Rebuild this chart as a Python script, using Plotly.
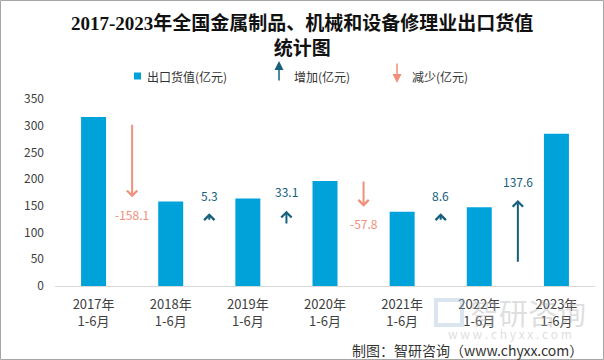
import plotly.graph_objects as go

# ---- data ----
categories = ["2017年<br>1-6月", "2018年<br>1-6月", "2019年<br>1-6月", "2020年<br>1-6月",
              "2021年<br>1-6月", "2022年<br>1-6月", "2023年<br>1-6月"]
export_values = [316.4, 158.3, 163.6, 196.7, 138.9, 147.5, 285.1]
change_values = [-158.1, 5.3, 33.1, -57.8, 8.6, 137.6]
change_labels = ["-158.1", "5.3", "33.1", "-57.8", "8.6", "137.6"]
arrow_tail = [304.5, 121.0, 114.0, 198.4, 121.0, 42.5]
arrow_tip = [166.0, 136.0, 141.0, 148.5, 136.0, 161.0]
label_y = [133.0, 170.0, 176.5, 117.0, 170.0, 195.0]
y_ticks = [0, 50, 100, 150, 200, 250, 300, 350]

BAR = "#00a2da"
UP = "#16607e"
DOWN = "#f0907b"
FONT = "Noto Sans CJK SC, Liberation Sans, sans-serif"

W, H = 604, 360
L, R, T, B = 55, 9, 99, 74
PW, PH = W - L - R, H - T - B


def px_x(p):
    return (p - L) / PW


def px_y(p):
    return (H - B - p) / PH


fig = go.Figure()
fig.add_trace(go.Bar(x=categories, y=export_values, marker_color=BAR,
                     marker_line_width=0, showlegend=False, hoverinfo="x+y"))

annotations = []
for i, (chg, lab, tail, tip, ly) in enumerate(zip(change_values, change_labels,
                                                   arrow_tail, arrow_tip, label_y)):
    col = UP if chg > 0 else DOWN
    xpos = i + 0.5
    annotations.append(dict(x=xpos, y=tip, ax=xpos, ay=tail, xref="x", yref="y",
                            axref="x", ayref="y", text="", showarrow=True,
                            arrowhead=4, arrowsize=1, arrowwidth=2, arrowcolor=col,
                            standoff=0, startstandoff=0))
    annotations.append(dict(x=xpos, y=ly, xref="x", yref="y", text=lab, showarrow=False,
                            font=dict(family=FONT, size=12, color=col),
                            xanchor="center", yanchor="middle"))

# title
annotations.append(dict(x=px_x(302), y=px_y(35), xref="paper", yref="paper",
                        text="<b>2017-2023年全国金属制品、机械和设备修理业出口货值<br>统计图</b>",
                        showarrow=False, xanchor="center", yanchor="middle",
                        font=dict(family="Liberation Serif, Noto Sans CJK SC, serif",
                                  size=19, color="#111111")))

# legend
leg_font = dict(family=FONT, size=12, color="#333333")
annotations.append(dict(x=px_x(145), y=px_y(76), xref="paper", yref="paper",
                        text="出口货值(亿元)", showarrow=False, xanchor="left",
                        yanchor="middle", font=leg_font))
annotations.append(dict(x=px_x(279), y=px_y(61), xref="paper", yref="paper", text="",
                        showarrow=True, ax=0, ay=21, arrowhead=2, arrowsize=1.2,
                        arrowwidth=1.5, arrowcolor=UP, standoff=0))
annotations.append(dict(x=px_x(292), y=px_y(76), xref="paper", yref="paper",
                        text="增加(亿元)", showarrow=False, xanchor="left",
                        yanchor="middle", font=leg_font))
annotations.append(dict(x=px_x(397), y=px_y(83), xref="paper", yref="paper", text="",
                        showarrow=True, ax=0, ay=-21, arrowhead=2, arrowsize=1.2,
                        arrowwidth=1.5, arrowcolor=DOWN, standoff=0))
annotations.append(dict(x=px_x(410), y=px_y(76), xref="paper", yref="paper",
                        text="减少(亿元)", showarrow=False, xanchor="left",
                        yanchor="middle", font=leg_font))

# watermark
annotations.append(dict(x=px_x(528), y=px_y(312), xref="paper", yref="paper",
                        text="智研咨询", showarrow=False, xanchor="center", yanchor="middle",
                        font=dict(family=FONT, size=29, color="rgba(170,170,170,0.4)")))
annotations.append(dict(x=px_x(510), y=px_y(333), xref="paper", yref="paper",
                        text="w w w . c h y x x . c o m", showarrow=False,
                        xanchor="center", yanchor="middle",
                        font=dict(family=FONT, size=12, color="rgba(170,170,170,0.4)")))

# source
annotations.append(dict(x=px_x(585), y=px_y(350), xref="paper", yref="paper",
                        text="制图：智研咨询（www.chyxx.com）", showarrow=False,
                        xanchor="right", yanchor="middle",
                        font=dict(family=FONT, size=14, color="#333333")))

shapes = [
    dict(type="rect", xref="paper", yref="paper", x0=px_x(134), x1=px_x(141),
         y0=px_y(79.5), y1=px_y(72.5), fillcolor=BAR, line_width=0),
    # faint watermark logo
    dict(type="rect", xref="paper", yref="paper", x0=px_x(436), x1=px_x(462),
         y0=px_y(325), y1=px_y(300), fillcolor="rgba(0,0,0,0)",
         line=dict(color="rgba(150,180,210,0.35)", width=4)),
    dict(type="rect", xref="paper", yref="paper", x0=px_x(0.5), x1=px_x(603.5),
         y0=px_y(359.5), y1=px_y(0.5), line=dict(color="#a6a6a6", width=1),
         fillcolor="rgba(0,0,0,0)", layer="above"),
]

fig.update_layout(
    width=W, height=H,
    margin=dict(l=L, r=R, t=T, b=B, pad=0),
    paper_bgcolor="white", plot_bgcolor="white",
    bargap=0.676,
    showlegend=False,
    font=dict(family=FONT, size=12, color="#404040"),
    xaxis=dict(type="category", range=[-0.5, 6.5], showgrid=False, showline=True,
               linecolor="#d9d9d9", linewidth=1, ticks="", zeroline=False,
               tickfont=dict(size=13, color="#404040"), ticklabelstandoff=6),
    yaxis=dict(range=[0, 350], tickvals=y_ticks, showgrid=False, showline=False,
               zeroline=False, ticks="", tickfont=dict(size=12, color="#404040"),
               ticklabelstandoff=10),
    annotations=annotations,
    shapes=shapes,
)

fig.write_html("out.html", config={"displayModeBar": False},
               post_script="document.body.style.margin='0';document.body.style.overflow='hidden';")
